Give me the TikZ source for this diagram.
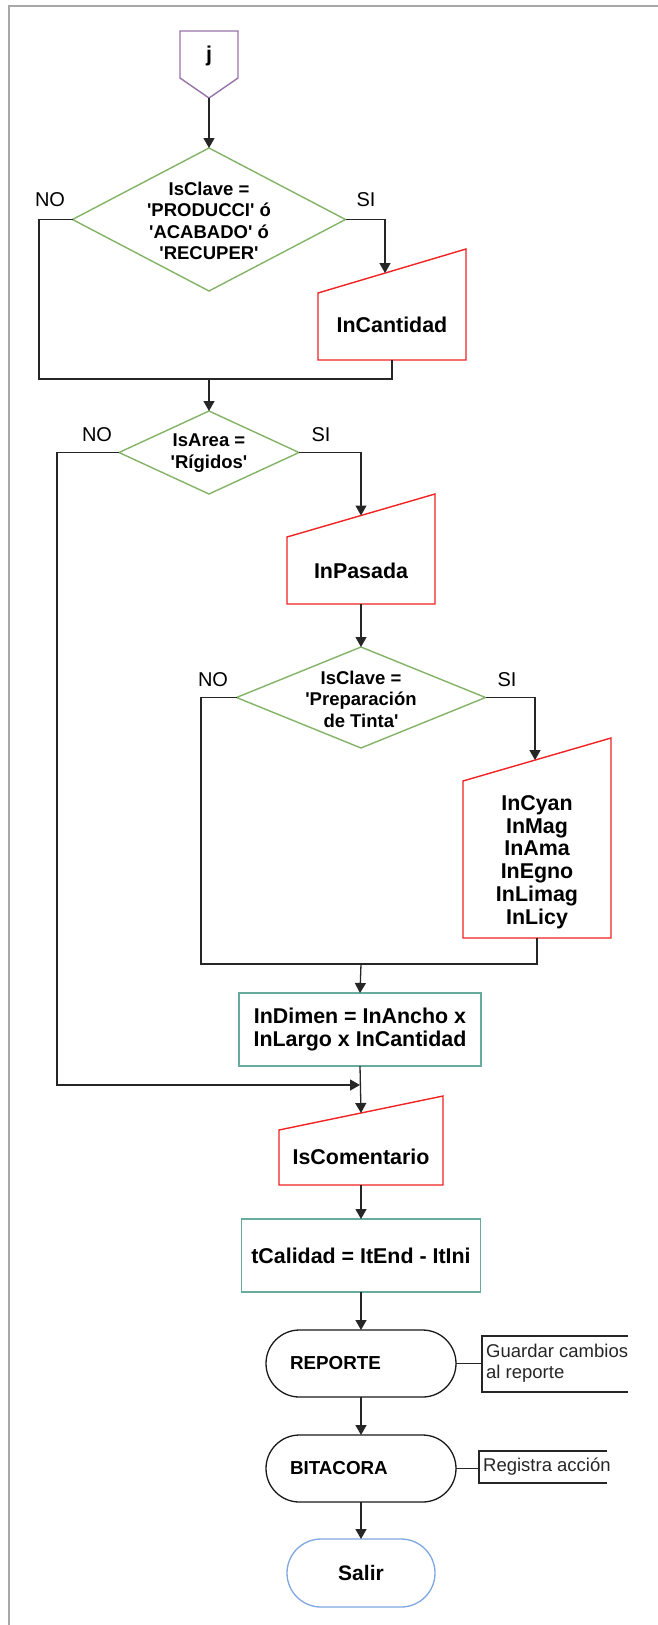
\documentclass[tikz,border=0pt]{standalone}
\usepackage{fontspec}
\setmainfont{Liberation Sans}[Ligatures=TeXOff]
\usetikzlibrary{arrows.meta,shapes.geometric}

\definecolor{dgreen}{HTML}{82B366}
\definecolor{inred}{HTML}{F02222}
\definecolor{procteal}{HTML}{67AB9F}
\definecolor{conpurple}{HTML}{9673A6}
\definecolor{endblue}{HTML}{7EA6E0}
\definecolor{framegray}{HTML}{A8A8A8}

\begin{document}
\begin{tikzpicture}[x=1pt,y=-1pt,
  flow/.style={draw=black!85, line width=1.3pt, -{Triangle[length=10pt,width=11pt]}},
  link/.style={draw=black!85, line width=1.3pt},
  dia/.style={diamond, draw=dgreen, line width=1.4pt, inner sep=0pt, outer sep=0pt},
  dtext/.style={font=\fontsize{18.5}{21.5}\selectfont\bfseries, align=center, inner sep=0pt},
  btext/.style={font=\fontsize{21.4}{22.8}\selectfont\bfseries, align=center, inner sep=0pt},
  proc/.style={draw=procteal, line width=1.4pt, inner sep=0pt, outer sep=0pt,
    font=\fontsize{21.4}{23}\selectfont\bfseries, align=center},
  inbox/.style={draw=inred, line width=1.4pt, line join=miter},
  lbl/.style={font=\fontsize{20}{22}\selectfont, inner sep=0pt},
  term/.style={draw=black!90, line width=1.3pt, rounded corners=33.5pt,
    minimum height=67pt, inner ysep=0pt, outer sep=0pt},
  note/.style={font=\fontsize{18.5}{21}\selectfont, align=left, inner sep=0pt, text=black!85},
]
\useasboundingbox (0,0) rectangle (658,1625);

% page frame (top and left edges)
\draw[framegray, line width=2pt] (658,6) -- (9,6) -- (9,1625);

% off-page connector j
\draw[conpurple, line width=1.4pt, line join=miter]
  (180,31) -- (238,31) -- (238,78) -- (209,98) -- (180,78) -- cycle;
\node[btext] (j) at (209,56) {j};
\coordinate (jtip) at (209,98);

% first decision
\node[dia, minimum width=273pt, minimum height=143pt] (d1) at (209,219.5) {};
\node[dtext] (d1t) at (209,221) {IsClave =\\'PRODUCCI' ó\\'ACABADO' ó\\'RECUPER'};
\node[lbl] (no1) at (50,200) {NO};
\node[lbl] (si1) at (366,200) {SI};

% manual input InCantidad
\draw[inbox] (318,293) -- (466,249) -- (466,360) -- (318,360) -- cycle;
\node[btext] (cant) at (392,325) {InCantidad};
\coordinate (cantIn) at (385,273.1);
\coordinate (cantOut) at (392,360);
\coordinate (n1c) at (39,379);
\coordinate (m1) at (209,379);

\draw[flow] (jtip) -- (d1.north);
\draw[flow] (d1.east) -| (cantIn);
\draw[link] (d1.west) -| (n1c) -- (m1);
\draw[link] (cantOut) |- (m1);

% second decision
\node[dia, minimum width=180pt, minimum height=83pt] (d2) at (209,452.5) {};
\node[dtext] (d2t) at (209,453) {IsArea =\\'Rígidos'};
\node[lbl] (no2) at (97,435) {NO};
\node[lbl] (si2) at (321,435) {SI};
\draw[flow] (m1) -- (d2.north);

% manual input InPasada
\draw[inbox] (287,537) -- (435,494) -- (435,604) -- (287,604) -- cycle;
\node[btext] (pas) at (361,571) {InPasada};
\coordinate (pasIn) at (361,515.5);
\coordinate (pasOut) at (361,604);
\draw[flow] (d2.east) -| (pasIn);

% third decision
\node[dia, minimum width=249pt, minimum height=101pt] (d3) at (361,697.5) {};
\node[dtext] (d3t) at (361,699) {IsClave =\\'Preparación\\de Tinta'};
\node[lbl] (no3) at (213,680) {NO};
\node[lbl] (si3) at (507,680) {SI};
\draw[flow] (pasOut) -- (d3.north);

% manual input of ink values
\draw[inbox] (463,781) -- (611,738) -- (611,938) -- (463,938) -- cycle;
\node[btext] (cyan) at (537,862) {InCyan\\InMag\\InAma\\InEgno\\InLimag\\InLicy};
\coordinate (cyanIn) at (535,760.1);
\coordinate (cyanOut) at (537,938);
\coordinate (n3c) at (201,964);
\coordinate (m3) at (361,964);
\draw[flow] (d3.east) -| (cyanIn);
\draw[link] (d3.west) -| (n3c) -- (m3);
\draw[link] (cyanOut) |- (m3);

% dimension calculation
\node[proc, minimum width=242pt, minimum height=73pt] (dim) at (360,1029.5)
  {InDimen = InAncho x\\InLargo x InCantidad};
\draw[flow] (m3) -- (dim.north);

% comment input
\draw[inbox] (279,1130) -- (443,1096) -- (443,1185) -- (279,1185) -- cycle;
\node[btext] (com) at (361,1157) {IsComentario};
\coordinate (comIn) at (361,1113);
\coordinate (comOut) at (361,1185);
\coordinate (n2c) at (57,1085);
\coordinate (j2) at (360,1085);
\draw[flow] (dim.south) -- (comIn);
\draw[flow] (d2.west) -| (n2c) -- (j2);

% time calculation
\node[proc, minimum width=239pt, minimum height=73pt] (tcal) at (361,1255.5)
  {tCalidad = ItEnd - ItIni};
\draw[flow] (comOut) -- (tcal.north);

% subprocess terminators
\node[term, text width=142pt, inner xsep=24pt, align=left,
  font=\fontsize{18.8}{22}\selectfont\bfseries] (rep) at (361,1363.5) {REPORTE};
\node[term, text width=142pt, inner xsep=24pt, align=left,
  font=\fontsize{18.8}{22}\selectfont\bfseries] (bit) at (361,1468.5) {BITACORA};
\node[term, draw=endblue, rounded corners=34pt, minimum width=148pt, minimum height=68pt,
  inner xsep=0pt, font=\fontsize{21}{23}\selectfont\bfseries] (salir) at (361,1573) {Salir};
\draw[flow] (tcal.south) -- (rep.north);
\draw[flow] (rep.south) -- (bit.north);
\draw[flow] (bit.south) -- (salir.north);

% annotations
\node[note, anchor=west] (ann1) at (486,1363.5) {Guardar cambios\\al reporte};
\coordinate (b1) at (482,1363.5);
\draw[link] (rep.east) -- (b1);
\draw[link] (628,1336) -- (482,1336) -- (482,1392) -- (628,1392);

\node[note, anchor=west] (ann2) at (483,1467) {Registra acción};
\coordinate (b2) at (479,1468.5);
\draw[link] (bit.east) -- (b2);
\draw[link] (607,1451) -- (479,1451) -- (479,1483) -- (607,1483);
\end{tikzpicture}
\end{document}
